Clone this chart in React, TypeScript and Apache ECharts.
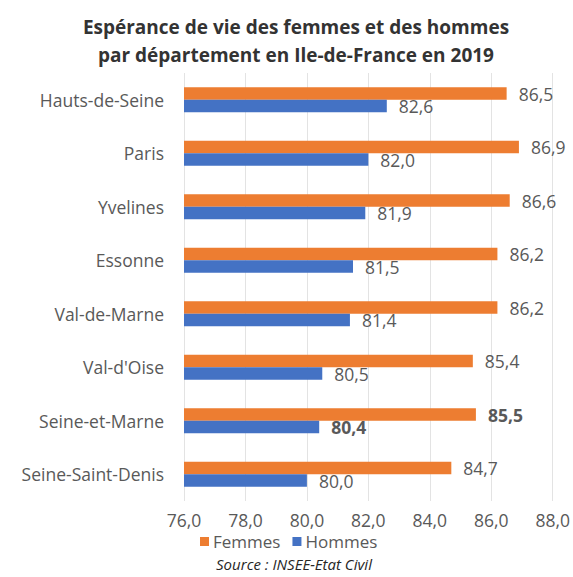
import React, { useEffect, useRef } from "react";
import * as echarts from "echarts";

const departements = [
  "Hauts-de-Seine",
  "Paris",
  "Yvelines",
  "Essonne",
  "Val-de-Marne",
  "Val-d'Oise",
  "Seine-et-Marne",
  "Seine-Saint-Denis",
];
const femmes = [86.5, 86.9, 86.6, 86.2, 86.2, 85.4, 85.5, 84.7];
const hommes = [82.6, 82.0, 81.9, 81.5, 81.4, 80.5, 80.4, 80.0];
const boldIndex = 6;
const xMin = 76;
const xMax = 88;
const xStep = 2;

const fmt = (v: number) => v.toFixed(1).replace(".", ",");
const FONT = "Open Sans";
const GRAY = "#595959";
const FS = 17.5;

export default function App() {
  const ref = useRef<HTMLDivElement>(null);
  useEffect(() => {
    if (!ref.current) return;
    const chart = echarts.init(ref.current, null, { renderer: "svg" });
    const mk = (vals: number[]) =>
      vals.map((v, i) => ({
        value: v,
        label: i === boldIndex ? { fontWeight: "bold" } : undefined,
      }));
    const valueLabel = {
      show: true,
      position: "right",
      distance: 12,
      fontFamily: FONT,
      fontSize: FS,
      color: GRAY,
      formatter: (p: any) => fmt(p.value),
    };
    chart.setOption({
      animation: false,
      backgroundColor: "#ffffff",
      legend: {
        top: 533,
        left: 200,
        padding: 0,
        itemWidth: 9,
        itemHeight: 9,
        itemGap: 12,
        icon: "rect",
        textStyle: { fontFamily: FONT, fontSize: 17, color: GRAY, padding: [0, 0, 0, -1] },
        data: ["Femmes", "Hommes"],
      },
      graphic: [
        {
          type: "text",
          x: 296,
          y: 13,
          style: {
            text: "Espérance de vie des femmes et des hommes\npar département en Ile-de-France en 2019",
            font: `bold 19px "${FONT}"`,
            fill: "#333333",
            align: "center",
            lineHeight: 28,
          },
        },
        {
          type: "text",
          x: 294,
          y: 556,
          style: {
            text: "Source : INSEE-Etat Civil",
            font: `italic 15px "${FONT}"`,
            fill: "#262626",
            align: "center",
          },
        },
      ],
      grid: { left: 184, right: 20, top: 73, bottom: 76 },
      xAxis: {
        type: "value",
        min: xMin,
        max: xMax,
        interval: xStep,
        axisLine: { show: false },
        axisTick: { show: false },
        splitLine: { show: true, lineStyle: { color: "#e3e3e3" } },
        axisLabel: {
          fontFamily: FONT,
          fontSize: FS,
          color: GRAY,
          margin: 10,
          formatter: (v: number) => fmt(v),
        },
      },
      yAxis: {
        type: "category",
        inverse: true,
        data: departements,
        axisLine: { show: false },
        axisTick: { show: false },
        axisLabel: { fontFamily: FONT, fontSize: FS, color: GRAY, margin: 20 },
      },
      series: [
        {
          name: "Femmes",
          type: "bar",
          data: mk(femmes),
          barWidth: 12.5,
          barGap: "0%",
          itemStyle: { color: "#ED7D31" },
          label: valueLabel,
        },
        {
          name: "Hommes",
          type: "bar",
          data: mk(hommes),
          barWidth: 12.5,
          itemStyle: { color: "#4472C4" },
          label: valueLabel,
        },
      ],
    });
    return () => chart.dispose();
  }, []);
  return (
    <div
      ref={ref}
      style={{ position: "fixed", left: 0, top: 0, width: 573, height: 577 }}
    />
  );
}
